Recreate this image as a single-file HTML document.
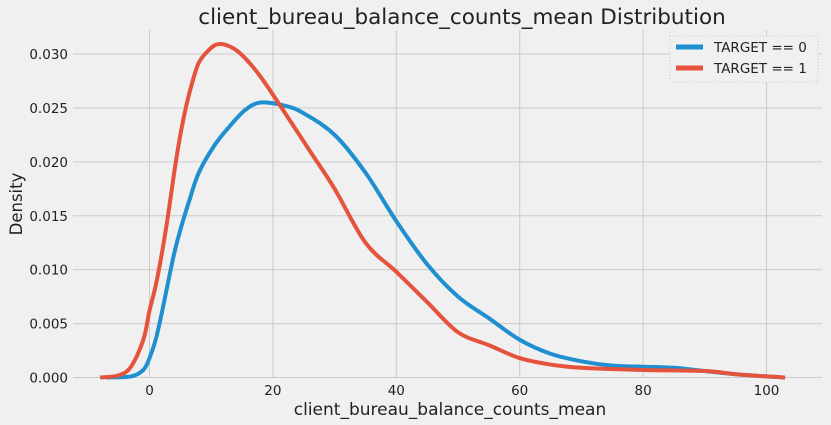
<!DOCTYPE html>
<html><head><meta charset="utf-8"><style>
body{margin:0;background:#f0f0f0;font-family:"DejaVu Sans","Liberation Sans",sans-serif}
svg{display:block}
</style></head><body>
<svg id="c" width="831" height="425" xmlns="http://www.w3.org/2000/svg">
<rect width="831" height="425" fill="#f0f0f0"/>
<g id="grid"></g><g id="ticks"></g><g id="series"></g>
<text x="462" y="24" font-size="21.5" text-anchor="middle" fill="#222">client_bureau_balance_counts_mean Distribution</text>
<text x="450" y="415" font-size="17" text-anchor="middle" fill="#222">client_bureau_balance_counts_mean</text>
<text transform="translate(22,204) rotate(-90)" font-size="16.5" text-anchor="middle" fill="#222">Density</text>
<g>
<rect x="670" y="36" width="148" height="46" fill="#f0f0f0" stroke="#ccc" stroke-dasharray="1,2"/>
<line x1="676" y1="47" x2="703" y2="47" stroke="#1f8fd0" stroke-width="5"/>
<text x="714" y="52" font-size="13.5" fill="#222">TARGET == 0</text>
<line x1="676" y1="68" x2="703" y2="68" stroke="#e5533c" stroke-width="5"/>
<text x="714" y="73" font-size="13.5" fill="#222">TARGET == 1</text>
</g>
</svg>
<script>
const xTicks=[0,20,40,60,80,100];
const yTicks=[0,0.005,0.010,0.015,0.020,0.025,0.030];
const yTickLabels=["0.000","0.005","0.010","0.015","0.020","0.025","0.030"];
const t0X=[-7,-3,-1,0,1,2,3,4,5,6.5,8,10.5,13,15.5,18,22,25,30,35,40,45,50,55,60,65,70,75,80,85,90,95,100,103];
const t0Y=[0,0.0001,0.0007,0.0018,0.0035,0.006,0.0088,0.0115,0.0137,0.0165,0.019,0.0215,0.0233,0.0248,0.0255,0.0252,0.0245,0.0225,0.019,0.0145,0.0105,0.0075,0.0055,0.0035,0.0022,0.0015,0.0011,0.001,0.0009,0.0006,0.0003,0.0001,0];
const t1X=[-8,-5,-3,-1,0,1,2,3,4,5,6,7,8,9.5,11,13,15,18,22,26,30,35,40,45,50,55,60,65,70,80,90,95,100,103];
const t1Y=[0,0.0002,0.001,0.0035,0.0062,0.0085,0.0115,0.015,0.019,0.0225,0.0253,0.0275,0.0292,0.0303,0.0309,0.0307,0.0299,0.0279,0.0245,0.021,0.0175,0.0125,0.0098,0.007,0.0042,0.003,0.0018,0.0012,0.0009,0.0007,0.0006,0.0003,0.0001,0];
const NS="http://www.w3.org/2000/svg";
const X0=73,X1=822,Y0=30,Y1=377.5;
function sx(v){return 149.5+v*6.17;}
function sy(v){return Y1-v*(323.5/0.030);}
function mk(t,a,p){const e=document.createElementNS(NS,t);for(const k in a)e.setAttribute(k,a[k]);p.appendChild(e);return e;}
const grid=document.getElementById('grid'),ticks=document.getElementById('ticks'),ser=document.getElementById('series');
xTicks.forEach(v=>{
 const l=mk('line',{x1:sx(v),x2:sx(v),y1:Y0,y2:Y1,stroke:'#cbcbcb','stroke-width':1},grid);
 
 
 const t=mk('text',{x:sx(v),y:395,'font-size':13.5,'text-anchor':'middle',fill:'#222'},ticks);
 t.textContent=v;
 
 
});
yTicks.forEach((v,i)=>{
 const l=mk('line',{x1:X0,x2:X1,y1:sy(v),y2:sy(v),stroke:'#cbcbcb','stroke-width':1},grid);
 
 
 const t=mk('text',{x:68,y:sy(v)+5,'font-size':13.5,'text-anchor':'end',fill:'#222'},ticks);
 t.textContent=yTickLabels[i];
 
 
});
function path(xs,ys){
 const p=xs.map((x,i)=>[sx(x),sy(ys[i])]);
 let d='M'+p[0][0]+','+p[0][1];
 for(let i=0;i<p.length-1;i++){
  const a=p[i-1]||p[i],b=p[i],c=p[i+1],e=p[i+2]||c;
  const c1=[b[0]+(c[0]-a[0])/6,b[1]+(c[1]-a[1])/6],c2=[c[0]-(e[0]-b[0])/6,c[1]-(e[1]-b[1])/6];
  d+=' C'+c1+' '+c2+' '+c;
 }
 return d;
}
const p0=mk('path',{d:path(t0X,t0Y),fill:'none',stroke:'#1f8fd0','stroke-width':4,'stroke-linejoin':'round'},ser);


const p1=mk('path',{d:path(t1X,t1Y),fill:'none',stroke:'#e5533c','stroke-width':4,'stroke-linejoin':'round'},ser);


</script>
</body></html>
